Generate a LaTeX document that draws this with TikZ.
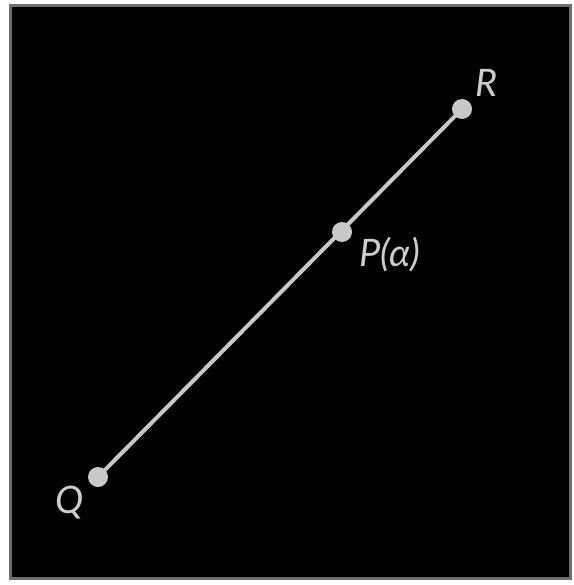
\documentclass[tikz,border=0pt]{standalone}
\usepackage{fontspec}
\setmainfont{Lato}
\begin{document}
\begin{tikzpicture}[x=1bp,y=-1bp,
  dotnode/.style={circle,fill=lightgray,inner sep=0pt,minimum size=20bp},
  lbl/.style={text=labelgray,font=\fontsize{38}{42}\selectfont\itshape,inner sep=0pt},
  seg/.style={draw=lightgray,line width=4bp}]
\definecolor{lightgray}{RGB}{200,200,200}
\definecolor{labelgray}{RGB}{205,205,205}
\definecolor{edgegray}{RGB}{110,110,110}
\useasboundingbox (0,0) rectangle (574,585);
\fill[white] (0,0) rectangle (574,585);
\filldraw[fill=black,draw=edgegray,line width=3bp] (10,6) rectangle (570,578);
\coordinate (q) at (98,477);
\coordinate (p) at (342,232);
\coordinate (r) at (462,109);
\draw[seg] (q) -- (r);
\node[dotnode] (Q) at (q) {};
\node[dotnode] (P) at (p) {};
\node[dotnode] (R) at (r) {};
\node[lbl] (Ql) at (70,503) {Q};
\node[lbl] (Pl) at (390,255) {P(α)};
\node[lbl] (Rl) at (487,83) {R};
\end{tikzpicture}
\end{document}
